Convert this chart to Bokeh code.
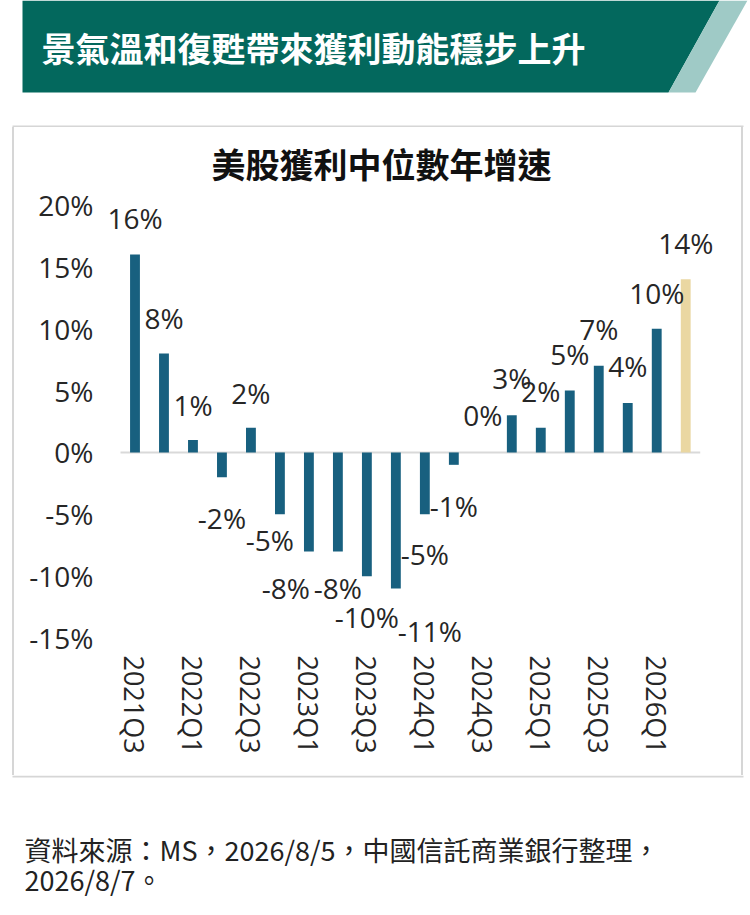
import math
from bokeh.plotting import figure
from bokeh.layouts import column, row
from bokeh.models import (ColumnDataSource, LabelSet, FixedTicker, PrintfTickFormatter,
                          Range1d, Spacer)
from bokeh.core.properties import value
from bokeh.embed import file_html
from bokeh.resources import INLINE

# ---------------- data ----------------
quarters = ["2021Q3", "2021Q4", "2022Q1", "2022Q2", "2022Q3", "2022Q4",
            "2023Q1", "2023Q2", "2023Q3", "2023Q4", "2024Q1", "2024Q2",
            "2024Q3", "2024Q4", "2025Q1", "2025Q2", "2025Q3", "2025Q4",
            "2026Q1", "2026Q2"]
growth = [16, 8, 1, -2, 2, -5, -8, -8, -10, -11, -5, -1, 0, 3, 2, 5, 7, 4, 10, 14]
estimate_quarters = ["2026Q2"]
tick_labels = ["2021Q3", "2022Q1", "2022Q3", "2023Q1", "2023Q3",
               "2024Q1", "2024Q3", "2025Q1", "2025Q3", "2026Q1"]
y_ticks = [-15, -10, -5, 0, 5, 10, 15, 20]

banner_title = "景氣溫和復甦帶來獲利動能穩步上升"
chart_title = "美股獲利中位數年增速"
source_note_1 = "資料來源：MS，2026/8/5，中國信託商業銀行整理，"
source_note_2 = "2026/8/7。"

# label nudges (pixels), to mimic the original label placement
label_dx = [0, 0, 0, 0, 0, -10, -23, 0, 0, 34, 0, 0, 0, 0, 0, 0, 0, 0, 0, 0]
label_dy = [36, 35, 35, -41, 35, -26, -37, -37, -41, -42, -40, -41, 37, 37, 37, 37, 37, 37, 36, 36]

# ---------------- styles ----------------
BAR = "#18607f"
BAR_EST = "#ead7a2"
GREEN = "#03685d"
TEAL = "#9fcac6"
BOX = "#d6d6d6"
TXT = "#262626"
LATIN = "Open Sans"
CJK = "Noto Sans CJK TC"

PAGE_W = 748
HEAD_H, MID_H, FOOT_H = 127, 648, 138
CHART_W = 727


def canvas_fig(w, h):
    f = figure(width=w, height=h, x_range=Range1d(0, w), y_range=Range1d(h, 0),
               output_backend="svg", toolbar_location=None,
               x_axis_location=None, y_axis_location=None,
               min_border=0, min_border_left=0, min_border_right=0,
               min_border_top=0, min_border_bottom=0)
    f.outline_line_color = None
    f.grid.visible = False
    f.background_fill_color = "white"
    f.border_fill_color = "white"
    return f


# ---------------- header: banner + top of box ----------------
head = canvas_fig(PAGE_W, HEAD_H)
head.patch([22, 719, 668, 22], [0, 0, 92, 92], fill_color=GREEN, line_color=None)
head.patch([719, 747, 695, 668], [0, 0, 92, 92], fill_color=TEAL, line_color=None)
head.text(x=[41], y=[47], text=[banner_title], text_color="white",
          text_font=value(CJK), text_font_style="bold", text_font_size="34px",
          text_align="left", text_baseline="middle")
head.segment(x0=[12], y0=[126], x1=[743], y1=[126], line_color=BOX, line_width=2)

# ---------------- chart ----------------
xs = list(range(len(quarters)))
src = ColumnDataSource(dict(
    x=xs,
    value=growth,
    label=[f"{v}%" for v in growth],
    color=[BAR_EST if q in estimate_quarters else BAR for q in quarters],
    dx=label_dx,
    dy=label_dy,
))

p = figure(width=CHART_W, height=MID_H, x_range=Range1d(-1.19, 20.2),
           y_range=Range1d(-16, 21), output_backend="svg", toolbar_location=None,
           min_border_left=86, min_border_right=21, min_border_top=65,
           min_border_bottom=125, title=chart_title)
p.outline_line_color = None
p.grid.visible = False
p.background_fill_color = "white"
p.border_fill_color = "white"
p.title.align = "left"
p.title.offset = 111
p.title.text_font = CJK
p.title.text_font_style = "bold"
p.title.text_font_size = "34px"
p.title.text_color = "#111111"
p.title.standoff = 10

# zero line across the categories
p.segment(x0=[-0.5], y0=[0], x1=[len(quarters) - 0.5], y1=[0],
          line_color="#d9d9d9", line_width=2)

p.vbar(x="x", top="value", bottom=0, width=0.34, fill_color="color",
       line_color=None, source=src)

p.add_layout(LabelSet(x="x", y="value", text="label", x_offset="dx", y_offset="dy",
                      source=src, text_align="center", text_baseline="middle",
                      text_font=value(LATIN), text_font_size=value("28px"),
                      text_color=TXT))

xa = p.xaxis[0]
xa.ticker = FixedTicker(ticks=[quarters.index(t) for t in tick_labels])
xa.major_label_overrides = {quarters.index(t): t for t in tick_labels}
xa.major_label_orientation = -math.pi / 2
xa.axis_line_color = None
xa.major_tick_line_color = None
xa.minor_tick_line_color = None
xa.major_tick_out = 0
xa.major_tick_in = 0
xa.major_label_standoff = 5
xa.major_label_text_font = LATIN
xa.major_label_text_font_size = "27px"
xa.major_label_text_color = TXT

ya = p.yaxis[0]
ya.ticker = FixedTicker(ticks=y_ticks)
ya.formatter = PrintfTickFormatter(format="%d%%")
ya.axis_line_color = None
ya.major_tick_line_color = None
ya.minor_tick_line_color = None
ya.major_tick_out = 0
ya.major_tick_in = 0
ya.major_label_standoff = 7
ya.major_label_text_font = LATIN
ya.major_label_text_font_size = "28px"
ya.major_label_text_color = TXT

# ---------------- side edges of the box ----------------
def edge():
    return Spacer(width=2, height=MID_H, styles={"background-color": BOX})

middle = row(Spacer(width=12, height=MID_H), edge(), p, edge(), Spacer(width=5, height=MID_H))

# ---------------- footer: bottom of box + source note ----------------
foot = canvas_fig(PAGE_W, FOOT_H)
foot.segment(x0=[12], y0=[1], x1=[743], y1=[1], line_color=BOX, line_width=2)
foot.text(x=[24, 24], y=[74, 104], text=[source_note_1, source_note_2],
          text_color="#222222", text_font=value(CJK), text_font_size="27px",
          text_align="left", text_baseline="middle")

layout = column(head, middle, foot)
open("out.html", "w").write(file_html(layout, INLINE))
